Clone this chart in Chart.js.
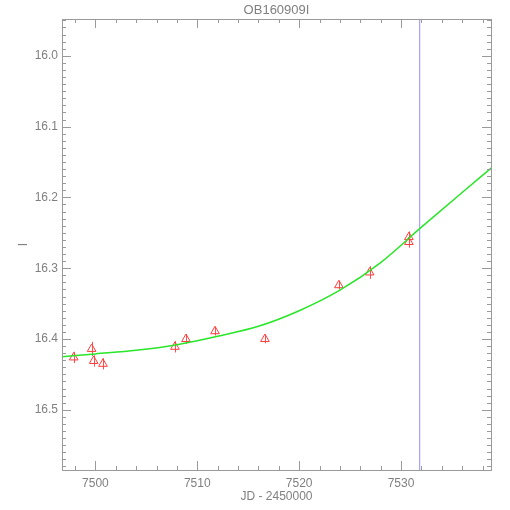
<!DOCTYPE html>
<html>
<head>
<meta charset="utf-8">
<title>OB160909I</title>
<script src="https://cdn.jsdelivr.net/npm/chart.js@4.4.1/dist/chart.umd.min.js"></script>
<style>
  html, body { margin: 0; padding: 0; background: #fff; }
  #wrap { width: 510px; height: 510px; }
</style>
</head>
<body>
<div id="wrap"><canvas id="lc" width="510" height="510"></canvas></div>
<script>
// observed points: JD - 2450000, I magnitude, error
const obsJD  = [7497.87, 7499.63, 7499.83, 7500.74, 7507.81, 7508.89, 7511.74, 7516.64, 7523.90, 7526.92, 7530.77, 7530.77];
const obsMag = [16.426, 16.414, 16.431, 16.435, 16.411, 16.400, 16.389, 16.400, 16.324, 16.306, 16.256, 16.263];
const obsErr = [0.008, 0.010, 0.008, 0.008, 0.008, 0.007, 0.006, 0.006, 0.006, 0.009, 0.008, 0.008];

// model curve
const fitJD  = [7496.7, 7500, 7504, 7508, 7512, 7516, 7520, 7524, 7528, 7532, 7536, 7538.9];
const fitMag = [16.425, 16.421, 16.416, 16.408, 16.396, 16.382, 16.360, 16.331, 16.292, 16.242, 16.193, 16.158];

// vertical marker
const markJD = 7531.82;

const xTicks = [7500, 7510, 7520, 7530];
const yTicks = [16.0, 16.1, 16.2, 16.3, 16.4, 16.5];

const chartTitle = 'OB160909I';
const xTitle = 'JD - 2450000';
const yTitle = 'I';

const xMin = 7496.72, xMax = 7538.83;
const yMin = 15.948, yMax = 16.585;

const axisColor = '#9a9a9a';
const textColor = '#808080';
const fontFamily = '"Liberation Sans", Arial, sans-serif';

// box, inward ticks on all four sides, and the title
const framePlugin = {
    id: 'frame',
    afterDatasetsDraw(chart) {
        const {ctx, chartArea: a, scales: {x, y}} = chart;
        ctx.save();
        ctx.strokeStyle = axisColor;
        ctx.lineWidth = 1;
        ctx.strokeRect(Math.round(a.left) + 0.5, Math.round(a.top) + 0.5,
            Math.round(a.right - a.left), Math.round(a.bottom - a.top));
        ctx.beginPath();
        for (let v = Math.ceil(xMin / 2) * 2; v <= xMax; v += 2) {
            const px = Math.round(x.getPixelForValue(v)) + 0.5;
            const len = v % 10 === 0 ? 9 : 4;
            ctx.moveTo(px, a.bottom); ctx.lineTo(px, a.bottom - len);
            ctx.moveTo(px, a.top); ctx.lineTo(px, a.top + len);
        }
        for (let k = Math.ceil(yMin * 100); k <= Math.floor(yMax * 100); k++) {
            const py = Math.round(y.getPixelForValue(k / 100)) + 0.5;
            const len = k % 10 === 0 ? 9 : 4;
            ctx.moveTo(a.left, py); ctx.lineTo(a.left + len, py);
            ctx.moveTo(a.right, py); ctx.lineTo(a.right - len, py);
        }
        ctx.stroke();

        ctx.fillStyle = textColor;
        ctx.font = '13px ' + fontFamily;
        ctx.textAlign = 'center';
        ctx.textBaseline = 'middle';
        ctx.fillText(chartTitle, (a.left + a.right) / 2, 10);
        ctx.restore();
    }
};

// error bars through the triangles
const errorBars = {
    id: 'errorBars',
    beforeDatasetsDraw(chart) {
        const {ctx, scales: {x, y}} = chart;
        ctx.save();
        ctx.strokeStyle = 'rgba(255,60,60,0.9)';
        ctx.lineWidth = 1;
        ctx.beginPath();
        obsJD.forEach((jd, i) => {
            const px = Math.round(x.getPixelForValue(jd)) + 0.5;
            ctx.moveTo(px, y.getPixelForValue(obsMag[i] - obsErr[i]));
            ctx.lineTo(px, y.getPixelForValue(obsMag[i] + obsErr[i]));
        });
        ctx.stroke();
        ctx.restore();
    }
};

const ctx = document.getElementById('lc').getContext('2d');
new Chart(ctx, {
    type: 'scatter',
    data: {
        datasets: [{
            data: fitJD.map((jd, i) => ({x: jd, y: fitMag[i]})),
            showLine: true,
            borderColor: 'rgb(40,230,40)',
            borderWidth: 1.5,
            pointRadius: 0,
            cubicInterpolationMode: 'monotone'
        }, {
            data: [{x: markJD, y: yMin}, {x: markJD, y: yMax}],
            showLine: true,
            borderColor: 'rgb(165,165,255)',
            borderWidth: 1,
            pointRadius: 0
        }, {
            data: obsJD.map((jd, i) => ({x: jd, y: obsMag[i]})),
            pointStyle: 'triangle',
            pointRadius: 5,
            pointBorderWidth: 1,
            pointBorderColor: 'rgb(255,60,60)',
            pointBackgroundColor: 'rgba(0,0,0,0)'
        }]
    },
    options: {
        responsive: false,
        animation: false,
        layout: { padding: { top: 19, right: 19, left: 0, bottom: 0 } },
        plugins: {
            legend: { display: false },
            tooltip: { enabled: false }
        },
        scales: {
            x: {
                type: 'linear',
                min: xMin,
                max: xMax,
                grid: { display: false, drawTicks: false },
                border: { display: false },
                ticks: {
                    color: textColor,
                    font: { family: fontFamily, size: 12 },
                    padding: 6,
                    maxRotation: 0,
                    callback: v => String(v)
                },
                afterBuildTicks: s => { s.ticks = xTicks.map(v => ({value: v})); },
                afterFit: s => { s.height = 40; },
                title: {
                    display: true,
                    text: xTitle,
                    color: textColor,
                    font: { family: fontFamily, size: 12 },
                    padding: { top: 0, bottom: 6 }
                }
            },
            y: {
                type: 'linear',
                reverse: true,
                min: yMin,
                max: yMax,
                grid: { display: false, drawTicks: false },
                border: { display: false },
                ticks: {
                    color: textColor,
                    font: { family: fontFamily, size: 12 },
                    padding: 4,
                    callback: v => v.toFixed(1)
                },
                afterBuildTicks: s => { s.ticks = yTicks.map(v => ({value: v})); },
                afterFit: s => { s.width = 62; },
                title: {
                    display: true,
                    text: yTitle,
                    color: textColor,
                    font: { family: fontFamily, size: 12 },
                    padding: { top: 16, bottom: 0 }
                }
            }
        }
    },
    plugins: [errorBars, framePlugin]
});
</script>
</body>
</html>
